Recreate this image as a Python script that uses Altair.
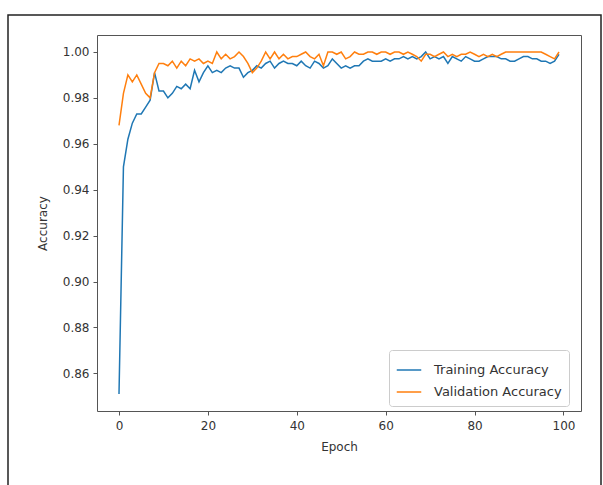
import altair as alt
import pandas as pd

epochs = list(range(100))

training = [
    0.851, 0.950, 0.962, 0.969, 0.973, 0.973, 0.976, 0.979, 0.991, 0.983,
    0.983, 0.980, 0.982, 0.985, 0.984, 0.986, 0.984, 0.992, 0.987, 0.991,
    0.994, 0.991, 0.992, 0.991, 0.993, 0.994, 0.993, 0.993, 0.989, 0.991,
    0.992, 0.994, 0.993, 0.995, 0.996, 0.993, 0.995, 0.996, 0.995, 0.995,
    0.994, 0.996, 0.994, 0.993, 0.996, 0.995, 0.993, 0.994, 0.997, 0.995,
    0.993, 0.994, 0.993, 0.994, 0.994, 0.996, 0.997, 0.996, 0.996, 0.996,
    0.997, 0.996, 0.997, 0.997, 0.998, 0.997, 0.998, 0.997, 0.998, 1.000,
    0.997, 0.998, 0.997, 0.998, 0.995, 0.998, 0.997, 0.996, 0.998, 0.997,
    0.996, 0.996, 0.997, 0.998, 0.998, 0.998, 0.997, 0.997, 0.996, 0.996,
    0.997, 0.998, 0.998, 0.997, 0.997, 0.996, 0.996, 0.995, 0.996, 0.999,
]

validation = [
    0.968, 0.982, 0.990, 0.987, 0.990, 0.986, 0.982, 0.980, 0.991, 0.995,
    0.995, 0.994, 0.996, 0.993, 0.996, 0.994, 0.997, 0.996, 0.997, 0.995,
    0.996, 0.995, 1.000, 0.997, 0.999, 0.997, 0.998, 1.000, 0.998, 0.995,
    0.991, 0.993, 0.996, 1.000, 0.997, 1.000, 0.997, 0.999, 0.997, 0.998,
    0.998, 0.999, 1.000, 0.998, 0.997, 0.999, 0.994, 1.000, 1.000, 0.999,
    1.000, 0.997, 0.998, 1.000, 0.999, 0.999, 1.000, 1.000, 0.999, 1.000,
    1.000, 0.999, 1.000, 1.000, 0.999, 1.000, 0.999, 0.998, 0.996, 0.999,
    0.999, 0.998, 0.999, 1.000, 0.998, 0.999, 0.998, 0.999, 0.999, 1.000,
    0.999, 0.998, 0.999, 0.998, 0.999, 0.998, 0.999, 1.000, 1.000, 1.000,
    1.000, 1.000, 1.000, 1.000, 1.000, 1.000, 0.999, 0.998, 0.997, 1.000,
]

series_names = ["Training Accuracy", "Validation Accuracy"]
series_colors = ["#1f77b4", "#ff7f0e"]
x_ticks = [0, 20, 40, 60, 80, 100]
y_ticks = [0.86, 0.88, 0.90, 0.92, 0.94, 0.96, 0.98, 1.00]

df = pd.concat([
    pd.DataFrame({"Epoch": epochs, "Accuracy": training, "Series": series_names[0]}),
    pd.DataFrame({"Epoch": epochs, "Accuracy": validation, "Series": series_names[1]}),
])

FONT = "DejaVu Sans"

lines = alt.Chart(df).mark_line(strokeWidth=1.5, clip=True).encode(
    x=alt.X("Epoch:Q",
            scale=alt.Scale(domain=[-4.95, 103.95], nice=False, zero=False),
            axis=alt.Axis(values=x_ticks, title="Epoch", format="d",
                          labelPadding=5, titlePadding=10)),
    y=alt.Y("Accuracy:Q",
            scale=alt.Scale(domain=[0.8436, 1.0074], nice=False, zero=False),
            axis=alt.Axis(values=y_ticks, title="Accuracy", format=".2f",
                          labelPadding=4, titlePadding=13)),
    color=alt.Color("Series:N",
                    scale=alt.Scale(domain=series_names, range=series_colors),
                    legend=alt.Legend(
                        title=None, orient="none", legendX=292, legendY=315,
                        symbolType="stroke", symbolSize=600, symbolStrokeWidth=1.5,
                        labelFont=FONT, labelFontSize=13, labelColor="#333",
                        labelOffset=12, rowPadding=2, padding=7,
                        fillColor="rgba(255,255,255,0.8)", strokeColor="#cccccc",
                        cornerRadius=3)),
)

frame = alt.Chart(pd.DataFrame({"f": [0]})).mark_rect(
    fillOpacity=0, stroke="#222222", strokeWidth=1.5
).encode(
    x=alt.value(-89), x2=alt.value(504), y=alt.value(-20), y2=alt.value(470)
)

chart = alt.layer(frame, lines).properties(
    width=484, height=376,
    autosize=alt.AutoSizeParams(type="none"),
    padding={"left": 97, "top": 35, "right": 22, "bottom": 74},
    background="white",
).configure_view(
    stroke="#555555", strokeWidth=1
).configure_axis(
    grid=False, domain=False,
    tickColor="#555555", tickSize=4, tickWidth=1,
    labelFont=FONT, labelFontSize=12, labelColor="#333",
    titleFont=FONT, titleFontSize=12, titleColor="#333", titleFontWeight="normal",
)

chart.save("out.html", embed_options={"renderer": "svg", "actions": False})
